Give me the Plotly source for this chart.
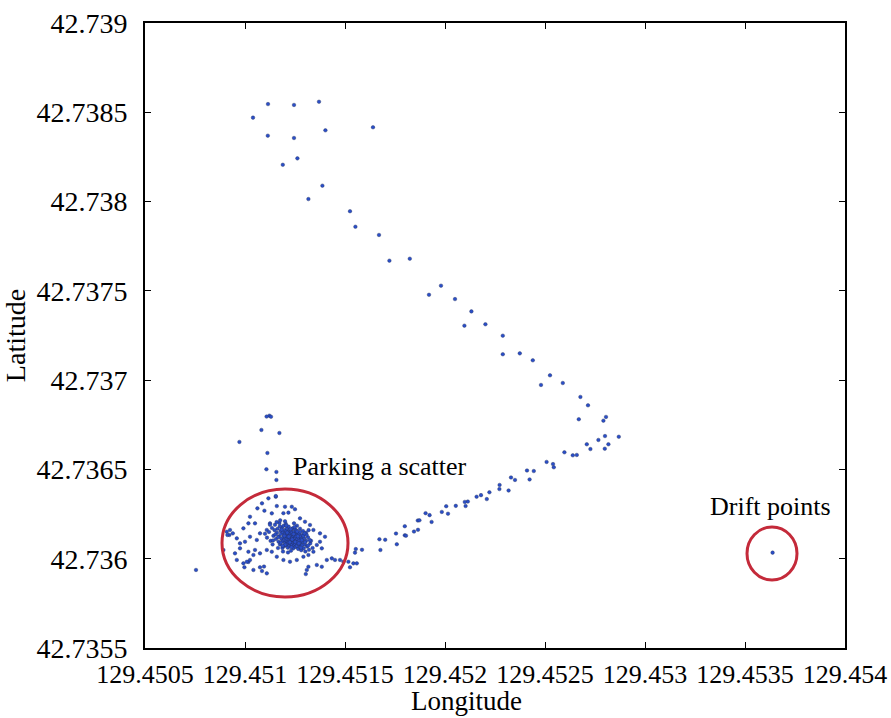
import plotly.graph_objects as go

# GPS fixes, stored as micro-degree offsets from a reference corner
LON0 = 129.45
LAT0 = 42.735

# trajectory points (µdeg offsets)
path_lon_u = [1115, 1245, 1370, 1040, 1114, 1245, 1402, 1640, 1262, 1189, 1387, 1317,
              1525, 1552, 1670, 1722, 1824, 1980, 1920, 2050, 2132, 2097, 2202, 2289,
              2289, 2374, 2439, 2525, 2480, 2589, 2677, 2715, 2669, 2792, 2805, 2767,
              2800, 2869, 2709, 2727, 2817, 2799, 2597, 2639, 2659, 2508, 2540, 2544,
              2410, 2444, 2423, 2330, 2350, 2318, 2273, 2272, 2222, 2209, 2158, 2180,
              2114, 2099, 2103, 2054, 2006, 1984, 2015, 1903, 1923, 1933, 1864, 1872,
              1865, 1845, 1799, 1799, 1805, 1755, 1759, 1701, 1672, 1677, 1554, 1585,
              1550, 1542, 1559, 1525,
              1122, 1130, 1108, 1082, 1172, 972, 1112, 1107, 1157, 1157, 1154,
              997, 1017, 1025, 1042, 1075, 1095, 1109, 1085, 755]
path_lat_u = [3546, 3541, 3559, 3470, 3369, 3356, 3399, 3416, 3242, 3206, 3089, 3014,
              2946, 2859, 2813, 2669, 2680, 2529, 2478, 2454, 2385, 2305, 2313, 2249,
              2145, 2150, 2111, 2027, 1973, 1984, 1906, 1859, 1781, 1773, 1794, 1665,
              1687, 1683, 1641, 1614, 1641, 1616, 1596, 1579, 1581, 1542, 1530, 1512,
              1494, 1491, 1444, 1455, 1441, 1382, 1413, 1390, 1372, 1334, 1347, 1356,
              1320, 1318, 1295, 1296, 1294, 1262, 1252, 1255, 1244, 1206, 1214, 1215,
              1162, 1152, 1182, 1131, 1129, 1141, 1081, 1106, 1109, 1049, 1054, 1050,
              1034, 974, 974, 952,
              1801, 1795, 1796, 1721, 1704, 1654, 1592, 1501, 1486, 1441, 1347,
              952, 982, 993, 937, 952, 956, 918, 931, 937]

# scattered fixes inside the parking area (µdeg offsets)
park_lon_u = [1154, 1117, 1085, 1062, 1097, 1134, 1159, 1200, 1234, 1250, 1217, 1192,
              1025, 1017, 1050, 992, 925, 922, 939, 959, 975, 1000, 1025, 1059, 1075,
              1109, 1125, 1275, 1300, 1325, 1342, 1375, 1400, 1375, 1359, 1384, 1342,
              1317, 1292, 1259, 1225, 1192, 1159, 1134, 1109, 1075, 1050, 1017, 975,
              950, 959, 1009, 992, 1042, 1317, 1309, 1304, 1359, 1384, 1409, 1434,
              1450, 1475, 1492, 1517, 909, 912, 892]
park_lat_u = [1351, 1338, 1310, 1282, 1269, 1254, 1295, 1291, 1291, 1277, 1258, 1255,
              1235, 1198, 1198, 1170, 1161, 1133, 1142, 1114, 1086, 1095, 1123, 1105, 1142,
              1161, 1198, 1226, 1207, 1189, 1161, 1142, 1123, 1095, 1077, 1058, 1039,
              1021, 1011, 993, 983, 993, 1011, 1039, 1049, 1030, 1049, 1039, 1058,
              1030, 993, 983, 974, 1021, 955, 937, 914, 965, 955, 993, 1002,
              993, 993, 983, 983, 1151, 1133, 1049]

# dense core of the parking scatter (µdeg offsets)
core_lon_u = [1120, 1135, 1142, 1150, 1155, 1160, 1163, 1168, 1170, 1172, 1175, 1178,
              1180, 1182, 1185, 1187, 1188, 1190, 1192, 1193, 1195, 1196, 1198, 1199,
              1200, 1202, 1203, 1204, 1205, 1206, 1207, 1208, 1209, 1210, 1211, 1212,
              1213, 1214, 1215, 1216, 1217, 1218, 1219, 1220, 1221, 1222, 1223, 1224,
              1225, 1226, 1227, 1228, 1229, 1230, 1231, 1232, 1233, 1234, 1235, 1236,
              1237, 1238, 1239, 1240, 1241, 1242, 1243, 1244, 1245, 1246, 1247, 1248,
              1249, 1250, 1251, 1252, 1253, 1254, 1255, 1256, 1258, 1259, 1260, 1262,
              1263, 1265, 1266, 1268, 1270, 1271, 1273, 1275, 1277, 1279, 1281, 1283,
              1286, 1288, 1290, 1293, 1296, 1299, 1302, 1306, 1310, 1315, 1320, 1326,
              1110, 1128, 1138, 1148, 1158, 1165, 1176, 1190, 1200, 1215, 1230, 1245,
              1260, 1275, 1290, 1305, 1318, 1330, 1338, 1100, 1125,
              1140, 1152, 1166, 1179, 1183, 1197, 1201, 1211, 1219, 1224, 1228, 1236,
              1243, 1251, 1257, 1264, 1269, 1276, 1284, 1292, 1300, 1308, 1316, 1324,
              1174, 1188, 1206, 1232, 1248, 1261, 1280, 1297]
core_lat_u = [1150, 1172, 1128, 1190, 1110, 1145, 1168, 1095, 1125, 1200, 1080, 1155,
              1138, 1112, 1175, 1060, 1098, 1148, 1122, 1185, 1070, 1135, 1105, 1160,
              1088, 1118, 1142, 1195, 1075, 1130, 1155, 1100, 1112, 1170, 1085, 1125,
              1140, 1062, 1097, 1150, 1118, 1180, 1090, 1108, 1132, 1145, 1072, 1160,
              1100, 1120, 1085, 1138, 1112, 1155, 1095, 1128, 1068, 1105, 1145, 1080,
              1118, 1170, 1092, 1135, 1102, 1058, 1125, 1088, 1150, 1110, 1075, 1130,
              1097, 1165, 1082, 1115, 1140, 1066, 1100, 1125, 1088, 1148, 1072, 1110,
              1132, 1094, 1055, 1118, 1080, 1140, 1102, 1065, 1125, 1090, 1048, 1110,
              1075, 1132, 1095, 1058, 1115, 1080, 1040, 1100, 1068, 1120, 1050, 1085,
              1118, 1100, 1080, 1160, 1205, 1060, 1215, 1040, 1210, 1035, 1045, 1198,
              1185, 1168, 1155, 1145, 1160, 1100, 1060, 1140, 1190,
              1102, 1136, 1120, 1090, 1163, 1128, 1078, 1146, 1124, 1092, 1166, 1108,
              1138, 1094, 1158, 1126, 1086, 1150, 1104, 1128, 1092, 1134, 1074, 1104,
              1182, 1072, 1186, 1064, 1178, 1152, 1062, 1142]

# drift point (µdeg offsets)
drift_lon_u = [3638]
drift_lat_u = [1034]

x_ticks = [129.4505, 129.451, 129.4515, 129.452, 129.4525, 129.453, 129.4535, 129.454]
x_tick_text = ["129.4505", "129.451", "129.4515", "129.452", "129.4525", "129.453", "129.4535", "129.454"]
y_ticks = [42.7355, 42.736, 42.7365, 42.737, 42.7375, 42.738, 42.7385, 42.739]
y_tick_text = ["42.7355", "42.736", "42.7365", "42.737", "42.7375", "42.738", "42.7385", "42.739"]

all_lon_u = path_lon_u + park_lon_u + core_lon_u + drift_lon_u
all_lat_u = path_lat_u + park_lat_u + core_lat_u + drift_lat_u
lon = [LON0 + v * 1e-6 for v in all_lon_u]
lat = [LAT0 + v * 1e-6 for v in all_lat_u]

FONT = "Liberation Serif"
RED = "#c42a3a"

fig = go.Figure()
fig.add_trace(go.Scatter(
    x=lon, y=lat, mode="markers",
    marker=dict(size=3.6, color="#2a4ec8", line=dict(width=0.4, color="#23305e")),
    showlegend=False,
))

# highlight ellipses
fig.add_shape(type="circle", xref="x", yref="y",
              x0=129.450885, x1=129.451515, y0=42.735786, y1=42.736390,
              line=dict(color=RED, width=3))
fig.add_shape(type="circle", xref="x", yref="y",
              x0=129.45351, x1=129.45376, y0=42.735881, y1=42.736178,
              line=dict(color=RED, width=3))

fig.add_annotation(x=129.45123, y=42.736514, text="Parking a scatter", showarrow=False,
                   xanchor="left", yanchor="middle",
                   font=dict(family=FONT, size=26, color="black"))
fig.add_annotation(x=129.453315, y=42.736295, text="Drift points", showarrow=False,
                   xanchor="left", yanchor="middle",
                   font=dict(family=FONT, size=26, color="black"))
# x-axis title (placed slightly left of centre, as in the original)
fig.add_annotation(xref="paper", yref="paper", x=0.4586, y=-0.0848, text="Longitude",
                   showarrow=False, xanchor="center", yanchor="middle",
                   font=dict(family=FONT, size=27, color="black"))

axis_common = dict(showline=True, linecolor="black", linewidth=2, mirror="ticks",
                   ticks="inside", ticklen=6, tickwidth=1, tickcolor="black",
                   showgrid=False, zeroline=False, automargin=False)

fig.update_xaxes(range=[129.4505, 129.454], tickvals=x_ticks, ticktext=x_tick_text,
                 tickfont=dict(family=FONT, size=26, color="black"),
                 ticklabelstandoff=2,
                 **axis_common)
fig.update_yaxes(range=[42.7355, 42.739], tickvals=y_ticks, ticktext=y_tick_text,
                 tickfont=dict(family=FONT, size=28, color="black"),
                 title=dict(text="Latitude", font=dict(family=FONT, size=28, color="black"),
                            standoff=4),
                 ticklabelstandoff=10,
                 **axis_common)

fig.update_layout(
    width=891, height=718,
    margin=dict(l=145, r=46, t=23, b=70),
    paper_bgcolor="white", plot_bgcolor="white",
    font=dict(family=FONT, color="black"),
)

fig.write_html("out.html")
